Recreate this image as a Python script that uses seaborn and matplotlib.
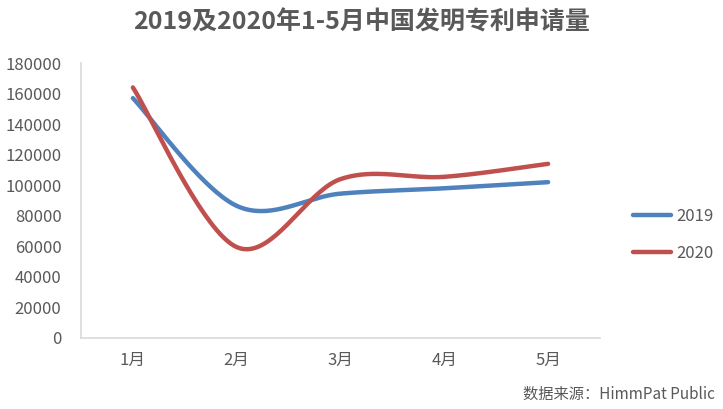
import numpy as np
import pandas as pd
import matplotlib
matplotlib.use('Agg')
import matplotlib.pyplot as plt
import seaborn as sns
from matplotlib.lines import Line2D

# ─── data ────────────────────────────────────────────────────────────────────
months = ["1月", "2月", "3月", "4月", "5月"]
apps_2019 = [157000, 86500, 94500, 98000, 102000]
apps_2020 = [164000, 59500, 104000, 105500, 114000]
series_names = ["2019", "2020"]
yticks = list(range(0, 180001, 20000))

sns.set_theme(style="white")
plt.rcParams['font.family'] = ['Noto Sans CJK SC', 'DejaVu Sans']

GRAY = "#595959"
COLORS = ["#4F81BD", "#C0504D"]


def smooth(vals, sx=104.0, sy=1.528e-3, n=40):
    """Excel-style smoothing: Catmull-Rom bezier in screen space."""
    x = np.arange(len(vals)) * sx
    y = np.asarray(vals, float) * sy
    P = np.column_stack([x, y])
    out = []
    for i in range(len(P) - 1):
        p0 = P[i - 1] if i > 0 else P[i]
        p1, p2 = P[i], P[i + 1]
        p3 = P[i + 2] if i + 2 < len(P) else P[i + 1]
        c1 = p1 + (p2 - p0) / 6
        c2 = p2 - (p3 - p1) / 6
        t = np.linspace(0, 1, n)[:, None]
        seg = ((1 - t) ** 3) * p1 + 3 * ((1 - t) ** 2) * t * c1 + 3 * (1 - t) * t ** 2 * c2 + t ** 3 * p2
        out.append(seg if i == 0 else seg[1:])
    seg = np.vstack(out)
    return seg[:, 0] / sx, seg[:, 1] / sy


frames = []
for name, vals in zip(series_names, [apps_2019, apps_2020]):
    xs, ys = smooth(vals)
    frames.append(pd.DataFrame({"x": xs, "y": ys, "year": name}))
df = pd.concat(frames, ignore_index=True)

fig = plt.figure(figsize=(7.23, 4.09), dpi=100)
ax = fig.add_axes([81 / 723, 1 - 338 / 409, (600 - 81) / 723, (338 - 63) / 409])

sns.lineplot(data=df, x="x", y="y", hue="year", palette=COLORS, sort=False,
             estimator=None, linewidth=3.2, ax=ax, legend=False)
for ln in ax.lines:
    ln.set_solid_capstyle("round")

ax.set_xlim(-0.5, len(months) - 0.5)
ax.set_ylim(0, 180000)
ax.set_xticks(range(len(months)))
ax.set_xticklabels(months)
ax.set_yticks(yticks)
ax.set_yticklabels([str(v) for v in yticks])
ax.tick_params(axis="both", length=0, labelsize=12, labelcolor=GRAY)
ax.tick_params(axis="x", pad=10)
ax.tick_params(axis="y", pad=14)
ax.set_xlabel("")
ax.set_ylabel("")
for s in ["top", "right"]:
    ax.spines[s].set_visible(False)
for s in ["left", "bottom"]:
    ax.spines[s].set_color("#d9d9d9")
    ax.spines[s].set_linewidth(1.2)

# legend
handles = [Line2D([0], [0], color=c, lw=3.2, solid_capstyle="round") for c in COLORS]
fig.legend(handles, series_names, loc="center left", bbox_to_anchor=(618 / 723, 1 - 235 / 409),
           frameon=False, fontsize=12, handlelength=2.3, handletextpad=0.3, labelspacing=1.2,
           labelcolor=GRAY)

fig.text(0.5, 1 - 22 / 409, "2019及2020年1-5月中国发明专利申请量", ha="center", va="center",
         fontsize=18, fontweight="bold", color=GRAY)
fig.text(715 / 723, 1 - 394 / 409, "数据来源：HimmPat Public", ha="right", va="center",
         fontsize=11, color=GRAY)

fig.savefig("out.png", dpi=100)
